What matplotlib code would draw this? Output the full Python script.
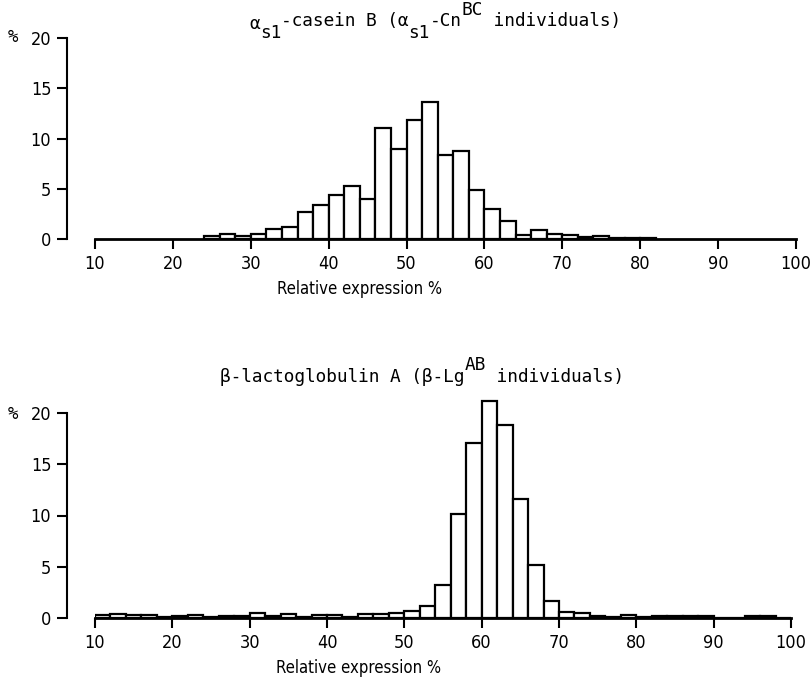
import matplotlib
matplotlib.use('Agg')
import matplotlib.pyplot as plt
from matplotlib import font_manager
from matplotlib.transforms import offset_copy
import numpy as np

plt.rcParams['font.family'] = ['DejaVu Sans Mono', 'DejaVu Sans']

# a narrow face for tick labels and axis labels, if one is installed
has_condensed = any(f.name == 'DejaVu Sans' and str(f.stretch) in ('condensed', '600', '500')
                    for f in font_manager.fontManager.ttflist)
if has_condensed:
    NARROW = dict(family='DejaVu Sans', stretch='condensed')
    TICK_SIZE, LAB_SIZE = 13, 12
else:
    NARROW = dict(family='DejaVu Sans Mono')
    TICK_SIZE, LAB_SIZE = 12.5, 10

# alpha-s1 casein B, bins of width 2 starting at 24
casein_start = 24
casein_pct = [0.3, 0.5, 0.3, 0.5, 1.0, 1.2, 2.7, 3.4, 4.4, 5.3, 4.0, 11.0,
              9.0, 11.8, 13.6, 8.4, 8.8, 4.9, 3.0, 1.8, 0.4, 0.9, 0.5, 0.4,
              0.15, 0.3, 0.05, 0.05, 0.05]

# beta-lactoglobulin A, bins of width 2 starting at 10
lg_start = 10
lg_pct = [0.3, 0.4, 0.3, 0.3, 0.05, 0.2, 0.3, 0.05, 0.2, 0.2, 0.5, 0.2,
          0.4, 0.05, 0.3, 0.3, 0.1, 0.4, 0.4, 0.5, 0.7, 1.2, 3.2, 10.1,
          17.1, 21.2, 18.8, 11.6, 5.2, 1.7, 0.6, 0.5, 0.2, 0.1, 0.3, 0.1,
          0.2, 0.15, 0.15, 0.2, 0.0, 0.0, 0.15, 0.15, 0.0]

bin_w = 2
xticks = list(range(10, 101, 10))
yticks = [0, 5, 10, 15, 20]

fig = plt.figure(figsize=(8.1, 6.81), dpi=100)
fig.patch.set_facecolor('white')

ax1 = fig.add_axes([95 / 810, 1 - 239 / 681, 701 / 810, 204 / 681])
ax2 = fig.add_axes([95 / 810, 1 - 618 / 681, 696 / 810, 205 * 21.5 / 20 / 681])


def style(ax, start, vals, ymax, y_pct, lab_top):
    edges = start + bin_w * np.arange(len(vals))
    ax.bar(edges, vals, width=bin_w, align='edge', facecolor='white',
           edgecolor='black', linewidth=1.6)
    ax.set_xlim(10, 100)
    ax.set_ylim(0, ymax)
    ax.spines['top'].set_visible(False)
    ax.spines['right'].set_visible(False)
    ax.spines['left'].set_position(('outward', 20))   # points, about 28 px
    ax.spines['left'].set_bounds(0, 20)
    ax.spines['left'].set_linewidth(1.5)
    ax.spines['bottom'].set_linewidth(2)
    ax.set_xticks(xticks)
    ax.set_yticks(yticks)
    ax.tick_params(axis='both', direction='out', length=7.5, width=1.5, pad=4)
    for lab in ax.get_xticklabels() + ax.get_yticklabels():
        lab.set(**NARROW)
        lab.set_fontsize(TICK_SIZE)
    ax.set_xlabel('Relative expression %', fontsize=LAB_SIZE, **NARROW)
    # label sits left of centre in the original
    h_px = ax.get_position().height * 681
    ax.xaxis.set_label_coords((360 - 95) / 701, -(lab_top - (1 - ax.get_position().y0) * 681) / h_px)
    fig.text(8 / 810, 1 - y_pct / 681, '%', ha='left', va='center', fontsize=12.5)


def rich_title(x_px, y_px, pieces, size=12.5):
    """Draw text pieces side by side; each piece is (text, dy in points)."""
    fig.canvas.draw()
    r = fig.canvas.get_renderer()
    widths = []
    for s, dy in pieces:
        t = fig.text(0, 0, s, fontsize=size)
        widths.append(t.get_window_extent(r).width)
        t.remove()
    x0 = x_px - sum(widths) / 2
    for (s, dy), w in zip(pieces, widths):
        tr = offset_copy(fig.transFigure, fig=fig, x=0, y=dy, units='points')
        fig.text(x0 / 810, 1 - y_px / 681, s, fontsize=size, transform=tr,
                 ha='left', va='baseline')
        x0 += w


style(ax1, casein_start, casein_pct, 20.3, 37, 280)
style(ax2, lg_start, lg_pct, 21.5, 414, 659)

rich_title(435, 26, [('α', -2), ('s1', -9), ('-casein B (α', 0), ('s1', -9),
                     ('-Cn', 0), ('BC', 8), (' individuals)', 0)], size=12.8)
rich_title(422, 382, [('β-lactoglobulin A (β-Lg', 0), ('AB', 9),
                      (' individuals)', 0)], size=12.8)

plt.savefig('out.png', dpi=100, facecolor='white')
